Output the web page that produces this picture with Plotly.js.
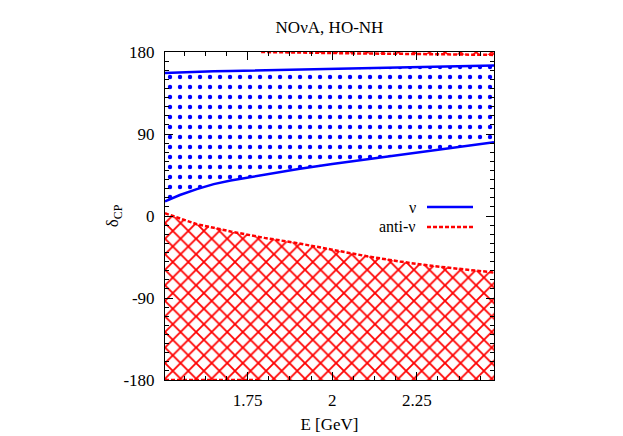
<!DOCTYPE html>
<html>
<head>
<meta charset="utf-8">
<script src="https://cdn.plot.ly/plotly-3.0.1.min.js"></script>
<style>html,body{margin:0;padding:0;background:#fff;}#chart{width:623px;height:436px;}</style>
</head>
<body>
<div id="chart"></div>
<script>
// Energy grid (GeV)
const energy = [1.506, 1.55, 1.6, 1.65, 1.7, 1.8, 1.9, 2.0, 2.1, 2.2, 2.3, 2.4, 2.478];
// neutrino allowed band (deg)
const nuLower = [16, 23, 29.5, 35, 39, 45.5, 51.5, 57, 62, 67, 71.5, 76.5, 81];
const nuUpper = [157, 157.8, 158.4, 158.8, 159.2, 160, 160.8, 161.5, 162.3, 163, 163.8, 164.6, 165.3];
// anti-neutrino allowed region (deg)
const antiUpper = [3, -3, -9, -13, -17, -24, -30, -37, -44, -50, -55, -59, -62];
const antiFloor = [-180, -180, -180, -180, -180, -180, -180, -180, -180, -180, -180, -180, -180];
// wrap-around part of the anti-neutrino region near +180
const topEnergy = [1.79, 1.9, 2.0, 2.1, 2.2, 2.3, 2.4, 2.478];
const topLower = [180, 179.2, 178.6, 178.3, 178, 177.6, 177.2, 176.8];
const topCeil = [180, 180, 180, 180, 180, 180, 180, 180];
// dashed boundary along -180
const bottomEnergy = [1.506, 1.79];
const bottomEdge = [-180, -180];

const xTicks = [1.75, 2, 2.25];
const xTickText = ['1.75', '2', '2.25'];
const yTicks = [-180, -90, 0, 90, 180];
const yTickText = ['-180', '-90', '0', '90', '180'];
const legendNames = ['ν', 'anti-ν'];

const BLUE = '#0000ff', RED = '#ff0000';
const FONT = 'Liberation Serif';
const FS = 17;

const redDash = {color: RED, width: 2.5, dash: '4px,2px'};
const noLine = {width: 0, color: 'rgba(0,0,0,0)'};
const redPattern = {shape: 'x', size: 11, solidity: 0.3, fgcolor: RED, bgcolor: 'rgba(0,0,0,0)'};
const bluePattern = {shape: '.', size: 10, solidity: 0.15, fgcolor: BLUE, bgcolor: 'rgba(0,0,0,0)'};

const traces = [
  {x: energy, y: antiFloor, mode: 'lines', line: noLine, hoverinfo: 'skip', showlegend: false},
  {x: energy, y: antiUpper, mode: 'lines', name: legendNames[1], line: redDash,
   fill: 'tonexty', fillcolor: 'rgba(0,0,0,0)', fillpattern: redPattern, showlegend: false},
  {x: topEnergy, y: topCeil, mode: 'lines', line: noLine, hoverinfo: 'skip', showlegend: false},
  {x: topEnergy, y: topLower, mode: 'lines', line: redDash,
   fill: 'tonexty', fillcolor: 'rgba(0,0,0,0)', fillpattern: redPattern, showlegend: false},
  {x: bottomEnergy, y: bottomEdge, mode: 'lines', line: redDash, showlegend: false},
  {x: energy, y: nuLower, mode: 'lines', line: {color: BLUE, width: 2.5}, showlegend: false},
  {x: energy, y: nuUpper, mode: 'lines', name: legendNames[0], line: {color: BLUE, width: 2.5},
   fill: 'tonexty', fillcolor: 'rgba(0,0,0,0)', fillpattern: bluePattern, showlegend: false}
];

const axisCommon = {
  showline: true, linecolor: '#000', linewidth: 1, mirror: 'ticks',
  ticks: 'inside', ticklen: 8, tickwidth: 1, tickcolor: '#000',
  showgrid: false, zeroline: false,
  tickfont: {family: FONT, size: FS, color: '#000'}
};

const LEG_Y1 = 207, LEG_Y2 = 227;

const layout = {
  width: 623, height: 436,
  margin: {l: 165, r: 129, t: 52, b: 56},
  paper_bgcolor: '#fff', plot_bgcolor: '#fff',
  showlegend: false,
  font: {family: FONT, size: FS, color: '#000'},
  title: {text: 'NOνA, HO-NH', x: 0.5, xref: 'paper', xanchor: 'center',
          y: 1 - 27 / 436, yref: 'container', yanchor: 'middle',
          font: {family: FONT, size: FS, color: '#000'}},
  xaxis: Object.assign({}, axisCommon, {
    range: [1.506, 2.478], tickmode: 'array', tickvals: xTicks, ticktext: xTickText,
    ticklabelstandoff: 5,
    minor: {tick0: 1.5, dtick: 0.0625, ticks: 'inside', ticklen: 4, tickcolor: '#000', showgrid: false},
    title: {text: 'E [GeV]', standoff: 8, font: {family: FONT, size: FS, color: '#000'}}
  }),
  yaxis: Object.assign({}, axisCommon, {
    range: [-180, 180], tickmode: 'array', tickvals: yTicks, ticktext: yTickText,
    ticklabelstandoff: 6,
    minor: {tick0: 0, dtick: 10, ticks: 'inside', ticklen: 4, tickcolor: '#000', showgrid: false},
    title: {text: 'δ<sub>CP</sub>', standoff: 0, font: {family: FONT, size: FS, color: '#000'}}
  }),
  annotations: [
    {text: legendNames[0], xref: 'paper', yref: 'paper', x: (417 - 165) / 329, y: (380 - LEG_Y1) / 328,
     xanchor: 'right', yanchor: 'middle', showarrow: false, borderpad: 0,
     font: {family: FONT, size: 16, color: '#000'}},
    {text: legendNames[1], xref: 'paper', yref: 'paper', x: (417 - 165) / 329, y: (380 - LEG_Y2) / 328,
     xanchor: 'right', yanchor: 'middle', showarrow: false, borderpad: 0,
     font: {family: FONT, size: 16, color: '#000'}}
  ],
  shapes: [
    {type: 'line', xref: 'paper', yref: 'paper', x0: (427 - 165) / 329, x1: (473 - 165) / 329,
     y0: (380 - LEG_Y1) / 328, y1: (380 - LEG_Y1) / 328, line: {color: BLUE, width: 2.5}},
    {type: 'line', xref: 'paper', yref: 'paper', x0: (427 - 165) / 329, x1: (473 - 165) / 329,
     y0: (380 - LEG_Y2) / 328, y1: (380 - LEG_Y2) / 328, line: {color: RED, width: 2.5, dash: '4px,2px'}}
  ]
};

Plotly.newPlot('chart', traces, layout, {displayModeBar: false, staticPlot: true});
</script>
</body>
</html>
